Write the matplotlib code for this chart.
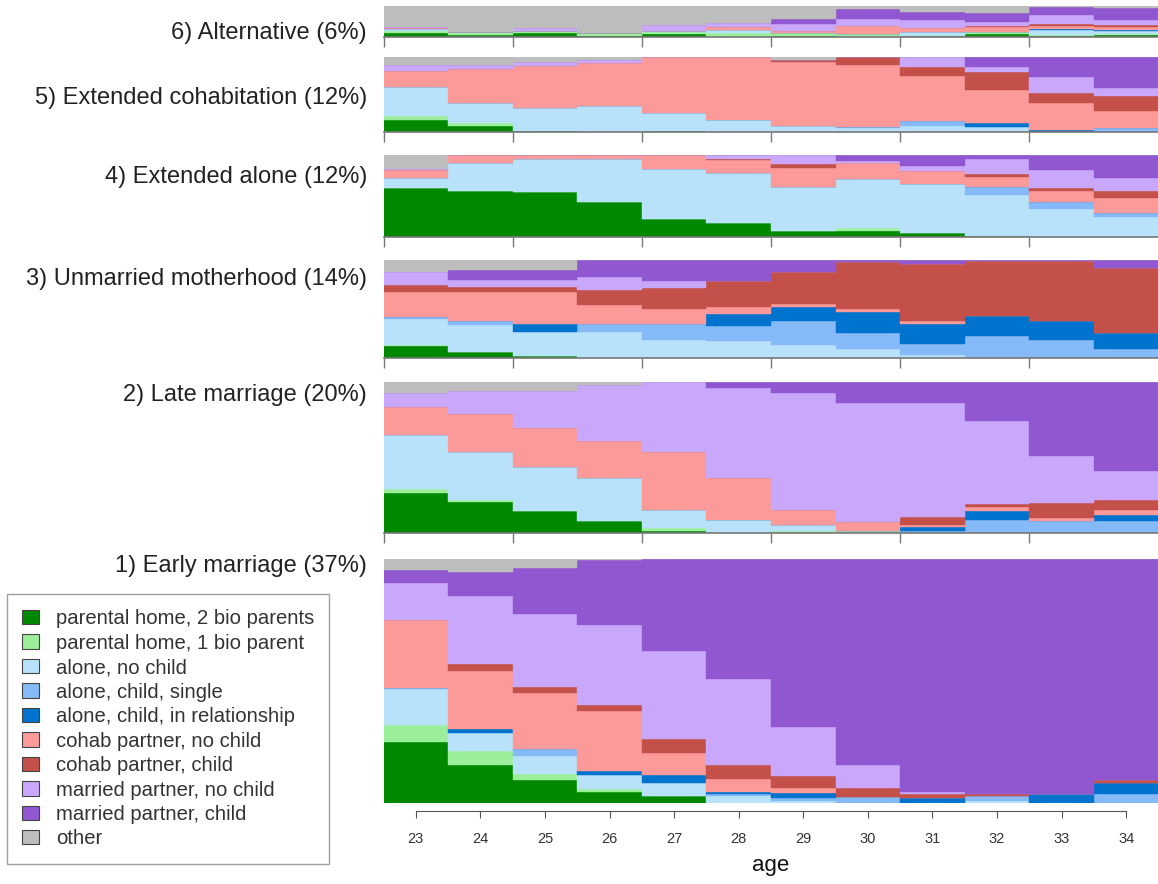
import numpy as np
import matplotlib
matplotlib.use("Agg")
import matplotlib.pyplot as plt
from matplotlib.patches import Patch

plt.rcParams["font.family"] = ["Liberation Sans", "DejaVu Sans"]

ages = [23, 24, 25, 26, 27, 28, 29, 30, 31, 32, 33, 34]

states = ["parental home, 2 bio parents", "parental home, 1 bio parent",
          "alone, no child", "alone, child, single", "alone, child, in relationship",
          "cohab partner, no child", "cohab partner, child",
          "married partner, no child", "married partner, child", "other"]
colors = ["#008800", "#9bef9b", "#b8e2fa", "#85b9f8", "#0073cf",
          "#fb9a99", "#c3514a", "#c9a8fc", "#9157d1", "#bdbdbd"]

# state shares per age, one list per state (same order as `states`)
alternative = [
    [.12, .05, .14, .02, .10, .00, .03, .00, .03, .10, .03, .06],
    [.08, .10, .05, .11, .06, .14, .11, .11, .00, .05, .05, .05],
    [.05, .00, .00, .00, .03, .08, .00, .00, .13, .00, .14, .08],
    [.00, .00, .00, .00, .00, .00, .00, .00, .00, .00, .00, .00],
    [.00, .00, .00, .00, .00, .00, .00, .00, .00, .00, .04, .03],
    [.03, .00, .00, .00, .00, .09, .06, .26, .14, .17, .10, .11],
    [.00, .00, .00, .00, .00, .00, .00, .00, .00, .05, .06, .05],
    [.03, .00, .10, .00, .21, .13, .22, .21, .24, .11, .30, .17],
    [.00, .00, .00, .00, .00, .00, .15, .31, .28, .30, .26, .39],
    [.69, .85, .71, .87, .60, .56, .43, .11, .18, .22, .02, .06],
]
ext_cohab = [
    [.16, .085, .02, 0, .02, 0, 0, 0, 0, 0, 0, 0],
    [.05, .03, 0, 0, 0, 0, 0, 0, 0, 0, 0, 0],
    [.39, .28, .30, .34, .24, .16, .085, .05, .08, .06, 0, 0],
    [0, 0, 0, 0, 0, 0, 0, .02, .07, 0, 0, .05],
    [0, 0, 0, 0, 0, 0, 0, 0, 0, .06, .02, 0],
    [.20, .46, .57, .58, .74, .84, .85, .81, .60, .43, .36, .23],
    [0, 0, 0, 0, 0, 0, .03, .11, .12, .24, .14, .20],
    [.08, .045, .045, .03, 0, 0, 0, 0, .13, .07, .20, .10],
    [0, 0, 0, 0, 0, 0, 0, 0, 0, .13, .27, .41],
    [.11, .11, .07, .045, 0, 0, .035, 0, 0, 0, 0, 0],
]
ext_alone = [
    [.60, .56, .55, .43, .23, .175, .08, .08, .06, .02, 0, .01],
    [0, 0, 0, 0, 0, 0, 0, .03, 0, 0, 0, 0],
    [.12, .34, .40, .52, .60, .61, .53, .60, .59, .49, .34, .235],
    [0, 0, 0, 0, 0, 0, 0, 0, 0, .09, .09, .05],
    [0, 0, 0, 0, 0, 0, 0, 0, 0, 0, 0, 0],
    [.09, .10, .05, .045, .17, .15, .22, .19, .17, .12, .13, .18],
    [0, 0, 0, 0, 0, .02, .05, 0, 0, .04, .04, .08],
    [.016, 0, 0, 0, 0, .045, .11, .03, .06, .18, .22, .16],
    [0, 0, 0, 0, 0, 0, 0, .07, .13, .05, .18, .28],
    [.17, 0, 0, 0, 0, 0, 0, 0, 0, 0, 0, 0],
]
unmarried_mother = [
    [.125, .06, .025, 0, 0, 0, 0, 0, 0, 0, 0, 0],
    [.01, 0, 0, 0, 0, 0, 0, 0, 0, 0, 0, 0],
    [.26, .27, .24, .265, .185, .175, .13, .095, .03, .015, 0, 0],
    [.027, .05, 0, .08, .16, .155, .25, .16, .115, .21, .18, .095],
    [0, 0, .08, 0, 0, .12, .145, .21, .20, .20, .20, .16],
    [.25, .29, .325, .20, .155, .075, .025, .035, .035, 0, 0, 0],
    [.075, .05, .05, .15, .21, .265, .325, .475, .575, .56, .60, .66],
    [.13, .075, .075, .13, .08, 0, 0, 0, 0, 0, 0, 0],
    [0, .10, .10, .175, .21, .21, .125, .025, .045, .015, .015, .085],
    [.125, .10, .10, 0, 0, 0, 0, 0, 0, 0, 0, 0],
]
late_marriage = [
    [.265, .205, .148, .077, .015, 0, 0, 0, 0, 0, 0, 0],
    [.029, .015, 0, 0, .018, 0, .011, .011, 0, 0, 0, 0],
    [.353, .316, .287, .287, .12, .084, .044, 0, 0, 0, 0, 0],
    [0, 0, 0, 0, 0, 0, 0, 0, .015, .084, .082, .082],
    [0, 0, 0, 0, 0, 0, 0, 0, .025, .06, 0, .04],
    [.188, .25, .265, .243, .382, .28, .10, .062, .015, .029, .018, .033],
    [0, 0, 0, 0, 0, 0, 0, 0, .05, .022, .095, .066],
    [.093, .15, .24, .375, .464, .596, .773, .788, .755, .545, .313, .188],
    [0, 0, 0, 0, 0, .04, .073, .139, .139, .26, .49, .59],
    [.073, .062, .062, .018, 0, 0, 0, 0, 0, 0, 0, 0],
]
early_marriage = [
    [.25, .155, .093, .045, .027, 0, 0, 0, 0, 0, 0, 0],
    [.068, .059, .025, .011, 0, 0, 0, 0, 0, 0, 0, 0],
    [.15, .074, .075, .057, .056, .028, .01, 0, 0, .008, 0, 0],
    [.004, 0, .03, 0, 0, .01, .01, .025, 0, .02, 0, .038],
    [0, .015, 0, .018, .03, .007, .022, 0, .02, 0, .038, .044],
    [.276, .24, .226, .246, .093, .055, .02, 0, 0, 0, 0, 0],
    [0, .027, .025, .023, .057, .057, .05, .038, .018, .01, 0, .011],
    [.15, .28, .30, .328, .36, .353, .20, .092, .007, 0, 0, 0],
    [.055, .096, .19, .267, .376, .49, .684, .845, .955, .962, .962, .907],
    [.045, .055, .036, .004, 0, 0, 0, 0, 0, 0, 0, 0],
]

clusters = [
    ("6) Alternative (6%)", alternative, 6, 37, 33),
    ("5) Extended cohabitation (12%)", ext_cohab, 57, 132, 98),
    ("4) Extended alone (12%)", ext_alone, 155, 237.5, 177),
    ("3) Unmarried motherhood (14%)", unmarried_mother, 260, 358, 279),
    ("2) Late marriage (20%)", late_marriage, 382, 533, 395),
    ("1) Early marriage (37%)", early_marriage, 559, 803, 566),
]

W, H = 1158, 884
fig = plt.figure(figsize=(W / 100, H / 100), dpi=100)
left = 383.5 / W
width = 775 / W

for title, data, top, bot, ty in clusters:
    ax = fig.add_axes([left, 1 - bot / H, width, (bot - top) / H])
    vals = np.array(data, dtype=float)
    vals = vals / vals.sum(axis=0)
    base = np.zeros(len(ages))
    for i in range(len(states)):
        ax.bar(ages, vals[i], bottom=base, width=1.0, color=colors[i],
               edgecolor=colors[i], linewidth=0.3)
        base += vals[i]
    ax.set_xlim(22.5, 34.5)
    ax.set_ylim(0, 1)
    ax.set_yticks([])
    for s in ["top", "right", "left"]:
        ax.spines[s].set_visible(False)
    if title.startswith("1)"):
        ax.spines["bottom"].set_position(("outward", 6))
        ax.spines["bottom"].set_bounds(23, 34)
        ax.spines["bottom"].set_color("#555555")
        ax.set_xticks(ages)
        ax.tick_params(axis="x", length=5, color="#555555", labelsize=10.5,
                       labelcolor="#333333", pad=10)
        ax.set_xlabel("age", fontsize=16, color="#111111", labelpad=6)
    else:
        ax.spines["bottom"].set_color("#777777")
        ax.spines["bottom"].set_linewidth(1.2)
        ax.set_xticks(np.arange(22.5, 35, 2))
        ax.set_xticklabels([])
        ax.tick_params(axis="x", length=7, color="#777777", width=1)
    fig.text(367 / W, 1 - ty / H, title, ha="right", va="center",
             fontsize=17, color="#222222")

handles = [Patch(facecolor=c, edgecolor="#444444", linewidth=0.8) for c in colors]
leg = fig.legend(handles, states, loc="upper left",
                 bbox_to_anchor=(7 / W, 1 - 594 / H), fontsize=14.6,
                 frameon=True, fancybox=False, edgecolor="#888888",
                 handlelength=0.85, handleheight=0.7, handletextpad=0.8,
                 labelspacing=0.27, borderpad=0.75, borderaxespad=0)
leg.get_frame().set_linewidth(1.0)
for t in leg.get_texts():
    t.set_color("#333333")

fig.savefig("out.png", dpi=100)
